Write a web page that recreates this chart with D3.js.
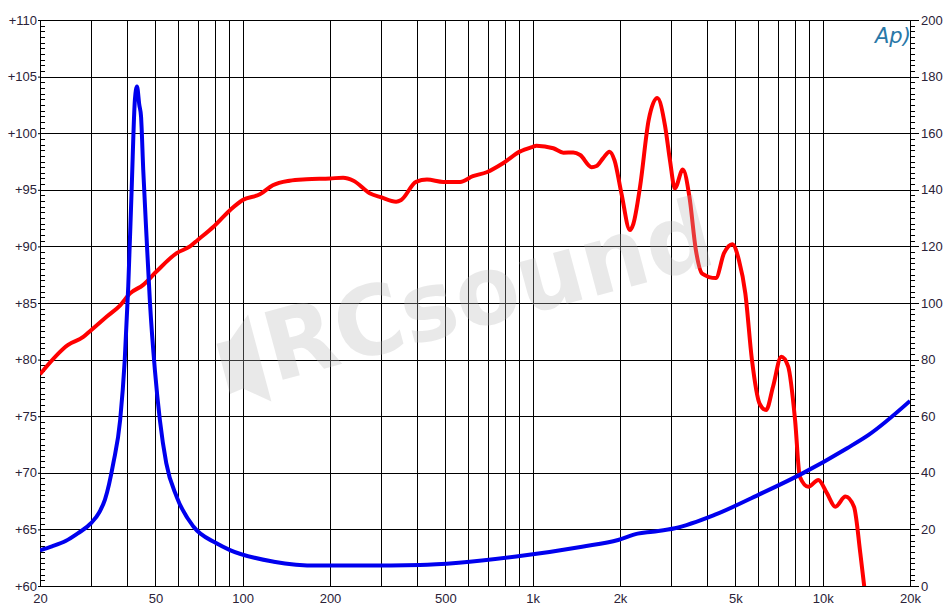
<!DOCTYPE html>
<html><head><meta charset="utf-8">
<script src="https://cdn.jsdelivr.net/npm/d3@7/dist/d3.min.js"></script>
<style>html,body{margin:0;padding:0;background:#fff;}svg{display:block;}</style>
</head><body>
<svg id="c" width="950" height="611"></svg>
<script>
// ---- data ----
const splFreq = [20,25,28.2,30,34,37.8,40.9,45.4,50.5,59.2,65.8,70,79.3,90.4,100,114.6,127,145,166,200,222,241,274,300,338,352,396,432,492,562,622,694,790,902,1000,1030,1178,1276,1380,1458,1596,1660,1750,1840,1915,2022,2164,2224,2346,2512,2690,2862,2974,3092,3294,3470,3652,3840,4280,4568,4880,5140,5410,5700,6060,6380,6740,7200,7600,8030,8340,8920,9660,10340,11060,11980,12820,13480,13900,14200];
const splDb = [78.7,81.3,82.0,82.6,83.8,84.8,85.85,86.6,87.8,89.4,90.0,90.57,91.74,93.2,94.1,94.6,95.4,95.8,95.93,96.0,96.07,95.8,94.7,94.34,93.95,94.1,95.7,95.9,95.7,95.7,96.2,96.55,97.34,98.37,98.8,98.9,98.67,98.28,98.3,98.07,97.0,97.1,97.8,98.37,97.6,94.7,91.45,92.0,95.3,101.17,103.1,100.6,97.6,95.13,96.8,94.4,89.7,87.6,87.2,89.4,90.2,88.8,85.85,80.0,76.1,75.55,77.6,80.26,79.4,74.67,69.65,68.77,69.36,68.2,67.0,67.9,67.0,62.9,60.0,58.0];
const impFreq = [20,22,24.5,27,30,32,33.5,35.8,37.8,39.2,40.3,41.4,42.5,43.2,44,44.6,45.4,46.6,47.9,49.8,51.8,54.5,59.2,67.6,81.2,90.4,128,182,258,408,556,877,1480,1970,2300,2592,3092,4234,6000,8520,12140,14400,20000];
const impVal = [12.6,14.0,15.9,18.6,22.2,26,30.5,43.4,58.7,79.9,105.8,139.9,172,176.5,170,166,147,123.4,99.9,76.3,58.7,43.4,31.5,21,15.1,12.7,8.6,7.2,7.2,7.4,8.2,10.4,13.9,16.25,18.5,19.2,20.4,25.1,32.2,39.8,48.7,53.4,65.4];
const xTickLabels = [20,50,100,200,500,1000,2000,5000,10000,20000];
const leftTicks = [60,65,70,75,80,85,90,95,100,105,110];
const rightTicks = [0,20,40,60,80,100,120,140,160,180,200];

// ---- layout ----
const L=40,R=910,T=20,B=586;
const svg = d3.select("#c");
const x = d3.scaleLog().domain([20,20000]).range([L,R]);
const yL = d3.scaleLinear().domain([60,110]).range([B,T]);
const yR = d3.scaleLinear().domain([0,200]).range([B,T]);
const labelColor = "#2a2238";
const font = "'Liberation Sans', Arial, sans-serif";

svg.append("defs").append("clipPath").attr("id","clip")
  .append("rect").attr("x",L).attr("y",T).attr("width",R-L).attr("height",B-T);

// grid
const grid = svg.append("g").attr("stroke","#000").attr("stroke-width",1).attr("shape-rendering","crispEdges");
grid.selectAll(".v").data(x.ticks()).join("line")
  .attr("x1",d=>Math.round(x(d))+0.5).attr("x2",d=>Math.round(x(d))+0.5).attr("y1",T).attr("y2",B);
grid.selectAll(".h").data(leftTicks).join("line")
  .attr("x1",L).attr("x2",R).attr("y1",d=>Math.round(yL(d))+0.5).attr("y2",d=>Math.round(yL(d))+0.5);
grid.append("rect").attr("x",L+0.5).attr("y",T+0.5).attr("width",R-L).attr("height",B-T).attr("fill","none");

// left minor ticks (inside)
const leftMinor = d3.range(60,110.01,0.5);
svg.append("g").attr("transform",`translate(${L},0)`)
  .call(d3.axisRight(yL).tickValues(leftMinor).tickSize(5).tickFormat(""))
  .call(g=>g.select(".domain").remove())
  .call(g=>g.selectAll("line").attr("stroke","#000").attr("shape-rendering","crispEdges"));
// left labels
svg.append("g").attr("transform",`translate(${L},0)`)
  .call(d3.axisLeft(yL).tickValues(leftTicks).tickSize(2).tickPadding(1).tickFormat(d=>"+"+d))
  .call(g=>g.select(".domain").remove())
  .call(g=>g.selectAll("line").attr("stroke","#000"))
  .call(g=>g.selectAll("text").attr("fill",labelColor).style("font-family",font).style("font-size","13px"));

// right minor ticks (outside)
svg.append("g").attr("transform",`translate(${R},0)`)
  .call(d3.axisRight(yR).tickValues(d3.range(0,200.01,2)).tickSize(5).tickFormat(""))
  .call(g=>g.select(".domain").remove())
  .call(g=>g.selectAll("line").attr("stroke","#000").attr("shape-rendering","crispEdges"));
svg.append("g").attr("transform",`translate(${R},0)`)
  .call(d3.axisRight(yR).tickValues(rightTicks).tickSize(9).tickPadding(2))
  .call(g=>g.select(".domain").remove())
  .call(g=>g.selectAll("line").attr("stroke","#000").attr("shape-rendering","crispEdges"))
  .call(g=>g.selectAll("text").attr("fill",labelColor).style("font-family",font).style("font-size","13px"));

// bottom labels
const fmt = d=> d>=1000 ? (d/1000)+"k" : String(d);
svg.append("g").attr("transform",`translate(0,${B})`)
  .call(d3.axisBottom(x).tickValues(xTickLabels).tickSize(0).tickPadding(8).tickFormat(fmt))
  .call(g=>g.select(".domain").remove())
  .call(g=>g.selectAll("text").attr("fill",labelColor).style("font-family",font).style("font-size","13px"));

// curves
const plot = svg.append("g").attr("clip-path","url(#clip)");
const splLine = d3.line().x((d,i)=>x(splFreq[i])).y((d,i)=>yL(splDb[i])).curve(d3.curveMonotoneX);
const impLine = d3.line().x((d,i)=>x(impFreq[i])).y((d,i)=>yR(impVal[i])).curve(d3.curveMonotoneX);
plot.append("path").attr("d",splLine(splFreq)).attr("fill","none").attr("stroke","#ff0000").attr("stroke-width",4).attr("stroke-linejoin","round");
plot.append("path").attr("d",impLine(impFreq)).attr("fill","none").attr("stroke","#0000ee").attr("stroke-width",4).attr("stroke-linejoin","round");

// watermark
const wm = svg.append("g").attr("transform","translate(230,394) rotate(-15)").attr("opacity",0.3);
wm.append("path").attr("d","M0,0 L0,-52 L14,-52 L38,-72 L38,18 L14,-2 Z").attr("fill","#b8b8b8");
wm.append("text").attr("x",46).attr("y",0).attr("fill","#b8b8b8")
  .style("font-family","'DejaVu Sans', sans-serif").style("font-weight","bold").style("font-size","96px")
  .attr("textLength",460).attr("lengthAdjust","spacingAndGlyphs").text("RCsound");

// Ap logo
svg.append("text").attr("x",875).attr("y",43).attr("fill","#2a78a8")
  .style("font-family","'DejaVu Sans', sans-serif").style("font-style","italic").style("font-size","21px")
  .text("Ap)");
</script>
</body></html>
